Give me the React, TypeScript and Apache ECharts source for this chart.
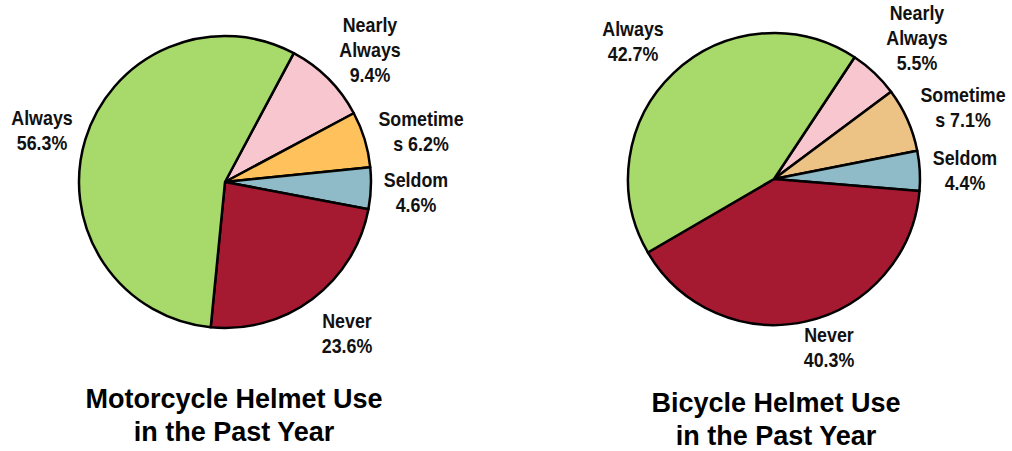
import React, { useEffect, useRef } from "react";
import * as echarts from "echarts";

// Slice order runs clockwise from the top-right boundary
const categories = ["Nearly Always", "Sometimes", "Seldom", "Never", "Always"];
const labelNames = ["Nearly\nAlways", "Sometime\ns", "Seldom", "Never", "Always"];
const motorcycleValues = [9.4, 6.2, 4.6, 23.6, 56.3];
const bicycleValues = [5.5, 7.1, 4.4, 40.3, 42.7];
const motorcycleColors = ["#F7C6CF", "#FFC15C", "#8FBAC7", "#A51931", "#A8D96B"];
const bicycleColors = ["#F7C6CF", "#ECC285", "#8FBAC7", "#A51931", "#A8D96B"];
const titles = ["Motorcycle Helmet Use\nin the Past Year", "Bicycle Helmet Use\nin the Past Year"];

// label anchor positions (px) per slice
const motorcycleLabelPos = [[370, 49], [421, 131], [416, 192], [347, 333], [42, 130]];
const bicycleLabelPos = [[917, 37], [963, 107], [965, 170], [829, 347], [633, 41]];

const LABEL_FONT = "'Liberation Sans', Arial, Helvetica, sans-serif";
const TITLE_FONT = "'Liberation Sans', Arial, Helvetica, sans-serif";

function labelText(i: number, v: number) {
  const nm = labelNames[i];
  const sep = nm.endsWith("\ns") ? " " : "\n";
  return `${nm}${sep}${v}%`;
}

function makeSeries(values: number[], colors: string[], center: [number, number], startAngle: number) {
  return {
    type: "pie",
    center,
    radius: 146,
    startAngle,
    clockwise: true,
    silent: true,
    data: values.map((v, i) => ({
      name: categories[i],
      value: v,
      itemStyle: { color: colors[i] },
    })),
    itemStyle: { borderColor: "#000", borderWidth: 2.5 },
    label: { show: false },
    labelLine: { show: false },
  };
}

function makeLabels(values: number[], pos: number[][]) {
  return values.map((v, i) => ({
    type: "text",
    x: pos[i][0],
    y: pos[i][1],
    scaleX: 0.85,
    silent: true,
    style: {
      text: labelText(i, v),
      textAlign: "center",
      textVerticalAlign: "middle",
      fontFamily: LABEL_FONT,
      fontWeight: "bold",
      fontSize: 21,
      lineHeight: 25,
      fill: "#111",
    },
  }));
}

function makeTitle(text: string, x: number, y: number) {
  return {
    type: "text",
    x,
    y,
    silent: true,
    style: {
      text,
      textAlign: "center",
      textVerticalAlign: "middle",
      fontFamily: TITLE_FONT,
      fontWeight: "bold",
      fontSize: 27,
      lineHeight: 33,
      fill: "#000",
    },
  };
}

export default function App() {
  const ref = useRef<HTMLDivElement>(null);
  useEffect(() => {
    document.body.style.margin = "0";
    const chart = echarts.init(ref.current!, undefined, { renderer: "svg" });
    chart.setOption({
      animation: false,
      backgroundColor: "#fff",
      series: [
        makeSeries(motorcycleValues, motorcycleColors, [225, 182], 61.9),
        makeSeries(bicycleValues, bicycleColors, [774, 179], 56.5),
      ],
      graphic: [
        ...makeLabels(motorcycleValues, motorcycleLabelPos),
        ...makeLabels(bicycleValues, bicycleLabelPos),
        makeTitle(titles[0], 234, 415),
        makeTitle(titles[1], 776, 419),
      ],
    });
    return () => chart.dispose();
  }, []);
  return <div ref={ref} style={{ width: 1012, height: 451 }} />;
}
